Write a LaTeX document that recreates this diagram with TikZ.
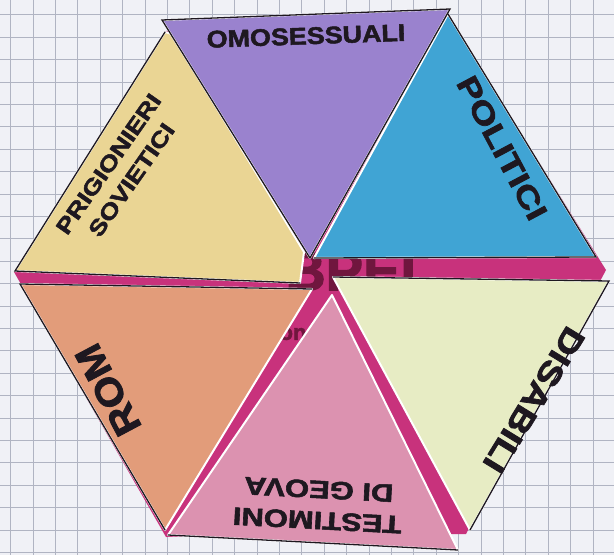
\documentclass[tikz,border=0pt]{standalone}
\usepackage{fontspec}
\usepackage{graphicx}
\newfontfamily\labfont{Liberation Sans}[BoldFeatures={FakeBold=2}]
\newcommand\labsize[2]{\labfont\bfseries\fontsize{#1}{#2}\selectfont}
\definecolor{paper}{RGB}{240,241,246}
\definecolor{gridc}{RGB}{176,180,194}
\definecolor{magbg}{RGB}{200,50,124}
\definecolor{magtxt}{RGB}{112,22,62}
\definecolor{cpurple}{RGB}{154,130,206}
\definecolor{cblue}{RGB}{64,164,212}
\definecolor{cyellow}{RGB}{234,213,148}
\definecolor{corange}{RGB}{226,156,122}
\definecolor{cpink}{RGB}{220,146,176}
\definecolor{cgreen}{RGB}{231,236,196}
\definecolor{ink}{RGB}{30,24,32}
\tikzset{
  tri/.style={fill=#1, draw=white, line width=2pt, line join=round},
  rim/.style={draw=ink, line width=1.3pt, line cap=round},
  lab/.style={text=ink, inner sep=0pt, align=center},
}
\begin{document}
\begin{tikzpicture}[x=1pt,y=-1pt]
\fill[paper] (0,0) rectangle (614,555);
\useasboundingbox (0,0) rectangle (614,555);
% graph paper
\foreach \i in {0,...,26} \draw[gridc, line width=0.8pt] ({10.6+22.4*\i},0) -- ++(0,555);
\foreach \j in {0,...,24} \draw[gridc, line width=0.8pt] (0,{14.8+22.4*\j}) -- ++(614,0);
% vertices
\coordinate (P1) at (162,20);  \coordinate (P2) at (450,9);   \coordinate (P3) at (310,258);
\coordinate (B1) at (448,14);  \coordinate (B2) at (596,257); \coordinate (B3) at (314,258);
\coordinate (Y1) at (165,32);  \coordinate (Y2) at (15,271);  \coordinate (Y3) at (300,283);
\coordinate (Y4) at (304,252); \coordinate (Y5) at (172,34);
\coordinate (O1) at (20,284);  \coordinate (O2) at (312,289); \coordinate (O3) at (165,530);
\coordinate (K1) at (332,295); \coordinate (K2) at (458,550); \coordinate (K3) at (168,535);
\coordinate (G1) at (333,277); \coordinate (G2) at (609,281); \coordinate (G3) at (470,530);
% magenta hexagon behind
\fill[magbg] (166,31) -- (447,14) -- (606,270) -- (466,534) -- (166,537) -- (14,272) -- cycle;
\node[text=magtxt, inner sep=0pt, font=\labsize{56}{56}] (bpel) at (360,271) {BPEL};
\node[text=magtxt, inner sep=0pt, font=\labsize{22}{22}] (on) at (293,334) {on};
% triangles
\filldraw[tri=cyellow] (Y1) -- (Y2) -- (Y3) -- (Y4) -- (Y5) -- cycle;
\filldraw[tri=cpurple] (P1) -- (P2) -- (P3) -- cycle;
\filldraw[tri=cblue]   (B1) -- (B2) -- (B3) -- cycle;
\filldraw[tri=corange] (O1) -- (O2) -- (O3) -- cycle;
\filldraw[tri=cpink]   (K1) -- (K2) -- (K3) -- cycle;
\filldraw[tri=cgreen]  (G1) -- (G2) -- (G3) -- cycle;
% black cut lines
\draw[rim] (P3) -- (P1) -- (P2) -- (P3);
\draw[rim] (B1) -- (B2) -- (B3);
\draw[rim] (Y3) -- (Y2) -- (Y1);
\draw[rim] (O2) -- (O1) -- (O3);
\draw[rim] (K3) -- (K2);
\draw[rim] (G1) -- (G2) -- (G3);
% labels
\node[lab, font=\labsize{24}{24}, rotate=2] (omo) at (306,36) {\scalebox{1.12}[1]{OMOSESSUALI}};
\node[lab, font=\labsize{30}{30}, rotate=-62] (pol) at (502,148) {\scalebox{1.25}[1]{POLITICI}};
\node[lab, font=\labsize{22}{28}, rotate=55] (pri) at (120,172) {\scalebox{1.22}[1]{PRIGIONIERI}\\\scalebox{1.22}[1]{SOVIETICI}};
\node[lab, font=\labsize{38}{38}, rotate=118] (rom) at (108,390) {\scalebox{1.1}[1]{ROM}};
\node[lab, font=\labsize{32}{32}, rotate=-121.5] (dis) at (534,400) {\scalebox{1.2}[1]{DISABILI}};
\node[lab, font=\labsize{25}{31}, rotate=177] (tes) at (318,505) {\scalebox{1.24}[1]{TESTIMONI}\\\scalebox{1.24}[1]{DI GEOVA}};
\end{tikzpicture}
\end{document}
